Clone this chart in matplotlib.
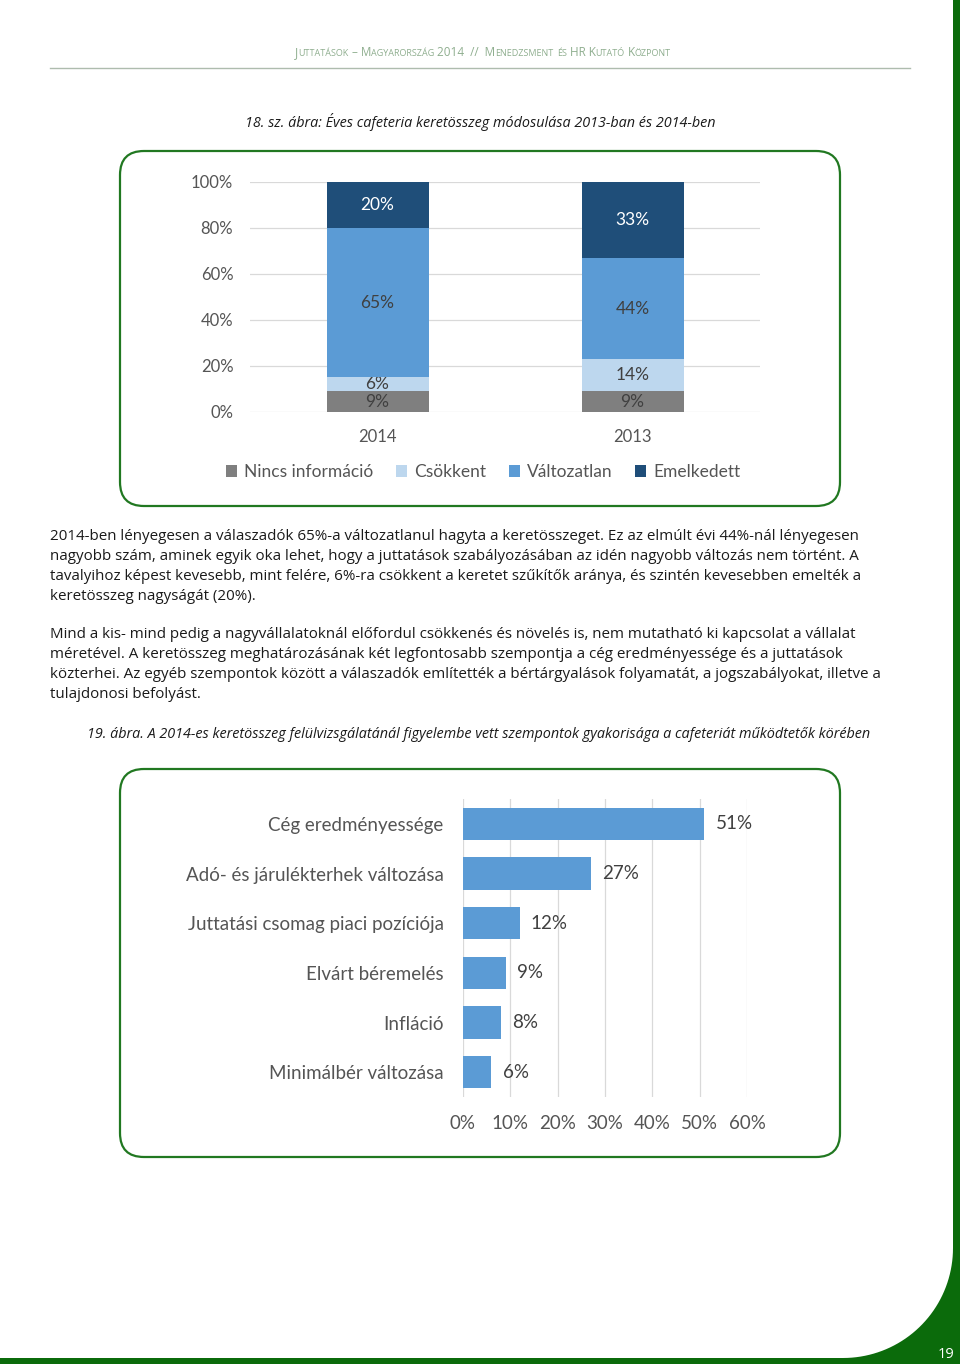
import matplotlib
matplotlib.use("Agg")
import matplotlib.pyplot as plt
import numpy as np
from matplotlib.patches import FancyBboxPatch, PathPatch
from matplotlib.path import Path

# ---- data ----
years = ["2014", "2013"]
series = ["Nincs információ", "Csökkent", "Változatlan", "Emelkedett"]
nincs_info = [9, 9]
csokkent = [6, 14]
valtozatlan = [65, 44]
emelkedett = [20, 33]

factors = ["Cég eredményessége", "Adó- és járulékterhek változása",
           "Juttatási csomag piaci pozíciója", "Elvárt béremelés",
           "Infláció", "Minimálbér változása"]
factor_share = [51, 27, 12, 9, 8, 6]

header = "Juttatások – Magyarország 2014  //  Menedzsment és HR Kutató Központ"
caption1 = "18. sz. ábra: Éves cafeteria keretösszeg módosulása 2013-ban és 2014-ben"
caption2 = ("19. ábra. A 2014-es keretösszeg felülvizsgálatánál figyelembe vett "
            "szempontok gyakorisága a cafeteriát működtetők körében")
para1 = [
    "2014-ben lényegesen a válaszadók 65%-a változatlanul hagyta a keretösszeget. Ez az elmúlt évi 44%-nál lényegesen",
    "nagyobb szám, aminek egyik oka lehet, hogy a juttatások szabályozásában az idén nagyobb változás nem történt. A",
    "tavalyihoz képest kevesebb, mint felére, 6%-ra csökkent a keretet szűkítők aránya, és szintén kevesebben emelték a",
    "keretösszeg nagyságát (20%).",
]
para2 = [
    "Mind a kis- mind pedig a nagyvállalatoknál előfordul csökkenés és növelés is, nem mutatható ki kapcsolat a vállalat",
    "méretével. A keretösszeg meghatározásának két legfontosabb szempontja a cég eredményessége és a juttatások",
    "közterhei. Az egyéb szempontok között a válaszadók említették a bértárgyalások folyamatát, a jogszabályokat, illetve a",
    "tulajdonosi befolyást.",
]
page_no = "19"

colors = ["#7F7F7F", "#BDD7EE", "#5B9BD5", "#1F4E79"]
label_colors = ["#404040", "#404040", "#404040", "white"]
GREEN = "#217821"
DARK_GREEN = "#0b6b0b"
TICK_C = "#555555"
CHART_FONT = "Lato"
BODY_FONT = "Open Sans"

W, H = 960, 1364
fig = plt.figure(figsize=(W / 100, H / 100), dpi=100)
fig.patch.set_facecolor("white")

bg = fig.add_axes([0, 0, 1, 1], zorder=0)
bg.set_xlim(0, W)
bg.set_ylim(H, 0)
bg.axis("off")


def px_axes(l, t, r, b):
    return fig.add_axes([l / W, 1 - b / H, (r - l) / W, (b - t) / H], zorder=2)


renderer = fig.canvas.get_renderer()


def fit_size(lines, width, family, style="normal", base=10):
    widest = 0
    for ln in lines:
        t = bg.text(0, 0, ln, fontsize=base, family=family, style=style)
        widest = max(widest, t.get_window_extent(renderer).width)
        t.remove()
    return base * width / widest


# ---- page decoration ----
# header in small caps
runs = []
for ch in header:
    big = not ch.islower()
    txt = ch.upper()
    if runs and runs[-1][1] == big:
        runs[-1][0] += txt
    else:
        runs.append([txt, big])
hcol = "#8fae8f"
pieces = []
total = 0
for txt, big in runs:
    t = bg.text(0, 56, txt, fontsize=8.5 if big else 6.5, family=BODY_FONT,
                color=hcol, va="baseline")
    w = t.get_window_extent(renderer).width
    pieces.append((t, w))
    total += w
x0 = 483 - total / 2
for t, w in pieces:
    t.set_x(x0)
    x0 += w
bg.plot([50, 910], [68, 68], color="#aebcae", lw=1.0)

c1size = fit_size([caption1], 472, BODY_FONT, "italic")
bg.text(480, 122, caption1, ha="center", va="center", fontsize=c1size,
        style="italic", family=BODY_FONT, color="#1a1a1a")

# boxes
for (bx, by, bw, bh) in [(120, 151, 720, 355), (120, 769, 720, 388)]:
    bg.add_patch(FancyBboxPatch((bx, by), bw, bh,
                                boxstyle="round,pad=0,rounding_size=24",
                                fc="white", ec=GREEN, lw=1.6))

# body paragraphs
bsize = fit_size(para1 + para2, 833, BODY_FONT)
for i, ln in enumerate(para1):
    bg.text(50, 536 + 20 * i, ln, fontsize=bsize, family=BODY_FONT,
            va="center", color="#1a1a1a")
for i, ln in enumerate(para2):
    bg.text(50, 635 + 20 * i, ln, fontsize=bsize, family=BODY_FONT,
            va="center", color="#1a1a1a")

csize = fit_size([caption2], 787, BODY_FONT, "italic")
bg.text(87, 734, caption2, fontsize=csize, family=BODY_FONT, style="italic",
        va="center", color="#1a1a1a")

# green page border with curved bottom-right corner
R = 110
sx, sy = 953, 1358
cx, cy = sx - R, sy - R
ts = np.linspace(np.pi / 2, 0, 40)
arc = [(cx + R * np.cos(t), cy + R * np.sin(t)) for t in ts]
verts = [(sx, 0), (W, 0), (W, H), (0, H), (0, sy)] + arc + [(sx, 0)]
bg.add_patch(PathPatch(Path(verts), fc=DARK_GREEN, ec="none"))
bg.text(946, 1355, page_no, color="white", fontsize=10.5, family=BODY_FONT,
        ha="center", va="center")

# ---- chart 1: stacked columns ----
ax1 = px_axes(250, 182, 760, 412)
x = np.arange(len(years))
bottom = np.zeros(len(years))
for name, vals, c, lc in zip(series, [nincs_info, csokkent, valtozatlan, emelkedett],
                             colors, label_colors):
    bars = ax1.bar(x, vals, 0.4, bottom=bottom, color=c, label=name, zorder=3)
    ax1.bar_label(bars, labels=[f"{v}%" for v in vals], label_type="center",
                  color=lc, fontsize=12.5, family=CHART_FONT)
    bottom += np.array(vals)
ax1.set_xlim(-0.5, 1.5)
ax1.set_ylim(0, 100)
ax1.set_yticks(range(0, 101, 20))
ax1.set_yticklabels([f"{v}%" for v in range(0, 101, 20)])
ax1.set_xticks(x)
ax1.set_xticklabels(years)
ax1.grid(axis="y", color="#D9D9D9", lw=0.9, zorder=0)
for s in ax1.spines.values():
    s.set_visible(False)
ax1.tick_params(length=0, pad=12, labelsize=12, labelcolor=TICK_C)
for lab in ax1.get_xticklabels() + ax1.get_yticklabels():
    lab.set_family(CHART_FONT)
leg = ax1.legend(loc="center", bbox_to_anchor=(483 / W, 1 - 472 / H),
                 bbox_transform=fig.transFigure, ncol=4, frameon=False,
                 handlelength=0.65, handleheight=0.65, handletextpad=0.4,
                 columnspacing=1.3, prop={"family": CHART_FONT, "size": 12.5})
for t in leg.get_texts():
    t.set_color(TICK_C)

# ---- chart 2: horizontal bars ----
ax2 = px_axes(463, 799, 747, 1097)
y = np.arange(len(factors))
bars2 = ax2.barh(y, factor_share, 0.65, color="#5B9BD5", zorder=3)
ax2.bar_label(bars2, labels=[f"{v}%" for v in factor_share], padding=8,
              color="#404040", fontsize=13.5, family=CHART_FONT)
ax2.set_ylim(len(factors) - 0.5, -0.5)
ax2.set_xlim(0, 60)
ax2.set_xticks(range(0, 61, 10))
ax2.set_xticklabels([f"{v}%" for v in range(0, 61, 10)])
ax2.set_yticks(y)
ax2.set_yticklabels(factors)
ax2.grid(axis="x", color="#D9D9D9", lw=0.9, zorder=0)
for s in ax2.spines.values():
    s.set_visible(False)
ax2.tick_params(axis="x", length=0, pad=13, labelsize=13.5, labelcolor=TICK_C)
ax2.tick_params(axis="y", length=0, pad=14, labelsize=13.5, labelcolor=TICK_C)
for lab in ax2.get_xticklabels() + ax2.get_yticklabels():
    lab.set_family(CHART_FONT)

fig.savefig("out.png", dpi=100)
